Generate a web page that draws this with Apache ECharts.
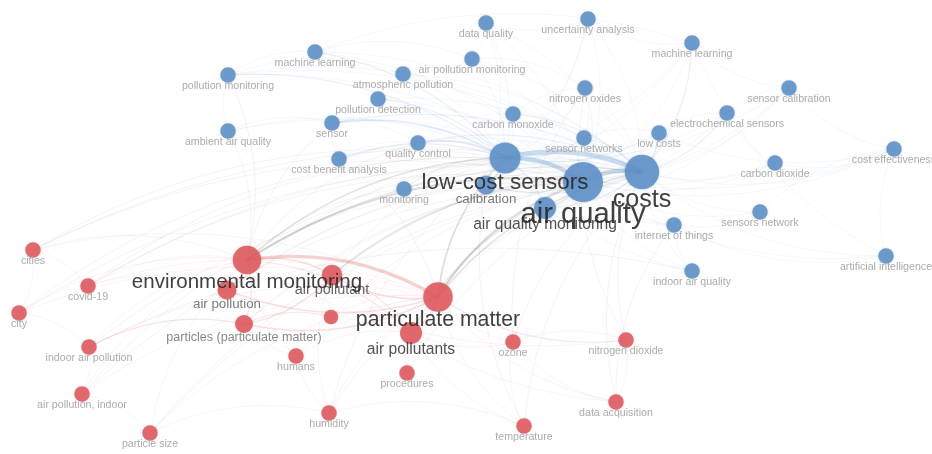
<!DOCTYPE html>
<html><head><meta charset="utf-8">
<script src="https://cdn.jsdelivr.net/npm/echarts@6/dist/echarts.min.js"></script>
<style>html,body{margin:0;padding:0;background:#fff}#c{width:932px;height:454px}</style>
</head><body><div id="c"></div>
<script>
// Node keys ("#..." suffix only disambiguates keys; it is not shown)
const nodeNames = [
  "data quality","uncertainty analysis","machine learning","machine learning#2","pollution monitoring",
  "air pollution monitoring","atmospheric pollution","nitrogen oxides","sensor calibration","pollution detection",
  "carbon monoxide","electrochemical sensors","sensor","ambient air quality","quality control",
  "sensor networks","low costs","cost effectiveness","cost benefit analysis","carbon dioxide",
  "monitoring","internet of things","sensors network","artificial intelligence","indoor air quality",
  "cities","covid-19","city","indoor air pollution","air pollution, indoor",
  "particle size","humans","procedures","humidity","temperature",
  "ozone","nitrogen dioxide","data acquisition","#pm",
  "calibration","air quality monitoring","particles (particulate matter)","air pollution","air pollutant","air pollutants",
  "environmental monitoring","particulate matter","low-cost sensors","costs","air quality"
];
// Map coordinates of each node
const nodeX = [486,588,315,692,228, 472,403,585,789,378, 513,727,332,228,418, 584,659,894,339,775, 404,674,760,886,692,
  33,88,19,89,82, 150,296,407,329,524, 513,626,616,331, 486,545,244,227,332,411, 247,438,505,642,583];
const nodeY = [23,19,52,43,75, 59,74,88,88,99, 114,113,123,131,143, 138,133,149,159,163, 189,225,212,256,271,
  250,286,313,347,394, 433,356,373,413,426, 342,340,402,317, 185,208,324,290,275,333, 260,297,158,172,182];
// 0 = blue cluster, 1 = red cluster
const nodeCluster = [0,0,0,0,0, 0,0,0,0,0, 0,0,0,0,0, 0,0,0,0,0, 0,0,0,0,0,
  1,1,1,1,1, 1,1,1,1,1, 1,1,1,1, 0,0,1,1,1,1, 1,1,0,0,0];
// Occurrence weight
const nodeWeight = [3,3,3,3,3, 3,3,3,3,3, 3,3,3,3,3, 3,3,3,3,3, 3,3,3,3,3,
  3,3,3,3,3, 3,3,3,3,3, 3,3,3,1, 10,16,8,10,13,16, 29,31,34,41,52];

// Links: [source, target, strength]
const links = [
  ["low-cost sensors","costs",9],["low-cost sensors","air quality",8],["air quality","costs",8],
  ["low-cost sensors","calibration",3],["air quality","calibration",2],["costs","calibration",2],
  ["air quality","air quality monitoring",3],["low-cost sensors","air quality monitoring",2],["costs","air quality monitoring",2],
  ["data quality","low-cost sensors",1],["data quality","air quality",1],["data quality","costs",1],
  ["uncertainty analysis","low-cost sensors",1],["uncertainty analysis","costs",1],["uncertainty analysis","air quality",1],
  ["machine learning","low-cost sensors",2],["machine learning","costs",1],["machine learning","air quality",1],
  ["machine learning#2","costs",2],["machine learning#2","air quality",1],["machine learning#2","low-cost sensors",1],
  ["pollution monitoring","low-cost sensors",2],["pollution monitoring","costs",1],["pollution monitoring","air quality",1],
  ["air pollution monitoring","low-cost sensors",1],["air pollution monitoring","air quality",1],["air pollution monitoring","costs",1],
  ["atmospheric pollution","low-cost sensors",1],["atmospheric pollution","air quality",1],["atmospheric pollution","costs",1],
  ["nitrogen oxides","low-cost sensors",1],["nitrogen oxides","costs",1],["nitrogen oxides","air quality",1],
  ["sensor calibration","costs",1],["sensor calibration","air quality",1],["sensor calibration","low-cost sensors",1],
  ["pollution detection","low-cost sensors",2],["pollution detection","costs",1],["pollution detection","air quality",1],
  ["carbon monoxide","low-cost sensors",1],["carbon monoxide","costs",2],["carbon monoxide","air quality",1],
  ["electrochemical sensors","costs",2],["electrochemical sensors","low-cost sensors",1],["electrochemical sensors","air quality",1],
  ["sensor","low-cost sensors",3],["sensor","costs",2],["sensor","air quality",1],
  ["ambient air quality","low-cost sensors",1],["ambient air quality","air quality",1],
  ["quality control","low-cost sensors",3],["quality control","costs",2],["quality control","air quality",1],
  ["sensor networks","costs",2],["sensor networks","low-cost sensors",2],["sensor networks","air quality",1],
  ["low costs","costs",3],["low costs","low-cost sensors",2],["low costs","air quality",1],
  ["cost effectiveness","costs",1],["cost effectiveness","air quality",1],["cost effectiveness","low-cost sensors",1],
  ["cost benefit analysis","low-cost sensors",2],["cost benefit analysis","costs",1],["cost benefit analysis","air quality",1],
  ["carbon dioxide","costs",1],["carbon dioxide","air quality",1],["carbon dioxide","low-cost sensors",1],
  ["monitoring","low-cost sensors",2],["monitoring","air quality",1],["monitoring","costs",1],
  ["internet of things","air quality",1],["internet of things","costs",1],["internet of things","low-cost sensors",1],
  ["sensors network","costs",1],["sensors network","air quality",1],
  ["artificial intelligence","costs",1],["artificial intelligence","air quality",1],
  ["indoor air quality","air quality",1],["indoor air quality","costs",1],["indoor air quality","low-cost sensors",1],
  ["pollution monitoring","machine learning",1],["pollution monitoring","atmospheric pollution",1],
  ["machine learning","air pollution monitoring",1],["air pollution monitoring","nitrogen oxides",1],
  ["atmospheric pollution","pollution detection",1],["pollution detection","sensor",1],["sensor","quality control",1],
  ["quality control","carbon monoxide",1],["carbon monoxide","nitrogen oxides",1],["nitrogen oxides","sensor networks",1],
  ["sensor networks","low costs",1],["low costs","electrochemical sensors",1],["electrochemical sensors","sensor calibration",1],
  ["sensor calibration","machine learning#2",1],["machine learning#2","uncertainty analysis",1],["uncertainty analysis","data quality",1],
  ["data quality","air pollution monitoring",1],["cost effectiveness","low costs",1],["cost effectiveness","carbon dioxide",1],
  ["carbon dioxide","electrochemical sensors",1],["sensors network","internet of things",1],["artificial intelligence","internet of things",1],
  ["artificial intelligence","machine learning#2",1],["indoor air quality","internet of things",1],["ambient air quality","sensor",1],
  ["ambient air quality","pollution monitoring",1],["cost benefit analysis","quality control",1],["cost benefit analysis","sensor",1],
  ["monitoring","calibration",1],["uncertainty analysis","calibration",1],["machine learning#2","calibration",1],
  ["data quality","calibration",1],["sensor calibration","air quality monitoring",1],["machine learning","machine learning#2",1],
  ["pollution monitoring","sensor networks",1],["cost effectiveness","sensor calibration",1],["sensors network","cost effectiveness",1],
  ["artificial intelligence","cost effectiveness",1],
  ["environmental monitoring","particulate matter",6],["environmental monitoring","air pollutant",3],
  ["environmental monitoring","air pollution",2],["environmental monitoring","particles (particulate matter)",2],
  ["environmental monitoring","air pollutants",2],["particulate matter","air pollutant",3],["particulate matter","air pollution",3],
  ["particulate matter","particles (particulate matter)",3],["particulate matter","air pollutants",3],
  ["air pollutant","particles (particulate matter)",2],["air pollutant","air pollutants",2],
  ["air pollution","particles (particulate matter)",1],["particles (particulate matter)","#pm",2],["#pm","particulate matter",1],
  ["cities","environmental monitoring",1],["cities","particulate matter",1],["cities","covid-19",1],["cities","city",1],
  ["covid-19","environmental monitoring",1],["covid-19","particulate matter",1],["covid-19","air pollution",1],
  ["city","environmental monitoring",1],["city","particulate matter",1],["city","indoor air pollution",1],
  ["indoor air pollution","environmental monitoring",1],["indoor air pollution","particulate matter",1],
  ["indoor air pollution","particles (particulate matter)",2],["indoor air pollution","air pollution, indoor",1],
  ["air pollution, indoor","environmental monitoring",1],["air pollution, indoor","particulate matter",1],["air pollution, indoor","particle size",1],
  ["particle size","particulate matter",1],["particle size","humidity",1],["particle size","environmental monitoring",1],
  ["humans","particulate matter",1],["humans","environmental monitoring",1],["humans","particles (particulate matter)",1],["humans","air pollutants",1],
  ["procedures","particulate matter",1],["procedures","air pollutants",1],
  ["humidity","particulate matter",1],["humidity","temperature",1],["humidity","humans",1],["humidity","air pollutant",1],
  ["temperature","particulate matter",1],["temperature","ozone",1],["temperature","air pollutants",1],
  ["ozone","particulate matter",1],["ozone","air pollutants",1],["ozone","nitrogen dioxide",1],
  ["nitrogen dioxide","particulate matter",2],["nitrogen dioxide","environmental monitoring",1],["nitrogen dioxide","data acquisition",1],
  ["data acquisition","particulate matter",1],["data acquisition","ozone",1],["data acquisition","air pollutant",1],
  ["environmental monitoring","air quality",4],["environmental monitoring","low-cost sensors",3],["environmental monitoring","costs",2],
  ["environmental monitoring","monitoring",1],["environmental monitoring","quality control",1],["environmental monitoring","sensor",1],
  ["particulate matter","air quality",4],["particulate matter","low-cost sensors",3],["particulate matter","costs",3],
  ["particulate matter","calibration",1],["particulate matter","air quality monitoring",2],
  ["air pollutant","costs",2],["air pollutant","air quality",2],["air pollutant","low-cost sensors",1],
  ["air pollutants","air quality",2],["air pollutants","costs",1],["air pollution","low-cost sensors",1],["air pollution","air quality",1],
  ["particles (particulate matter)","air quality",1],["particles (particulate matter)","costs",1],
  ["cities","low-cost sensors",1],["cities","air quality",1],["city","low-cost sensors",1],["covid-19","air quality",1],["covid-19","costs",1],
  ["indoor air pollution","air quality",1],["indoor air pollution","indoor air quality",1],["humans","air quality",1],
  ["humidity","costs",1],["humidity","low-cost sensors",1],["temperature","costs",1],["temperature","calibration",1],
  ["ozone","costs",1],["ozone","nitrogen oxides",1],["nitrogen dioxide","nitrogen oxides",1],["nitrogen dioxide","costs",1],
  ["data acquisition","internet of things",1],["data acquisition","costs",1],["particle size","air quality",1],["procedures","costs",1],
  ["air pollution, indoor","air quality",1],["ambient air quality","environmental monitoring",1],["pollution monitoring","environmental monitoring",1],
  ["cost benefit analysis","particulate matter",1],["city","costs",1],["cities","costs",1],["air pollution, indoor","low-cost sensors",1],
  ["particle size","costs",1],["covid-19","low-cost sensors",1],["air pollution","costs",1]
];

const idx = {}; nodeNames.forEach((n, i) => idx[n] = i);
const BLUE = '#5b90c8', RED = '#e0585d';
const data = nodeNames.map((n, i) => {
  const w = nodeWeight[i];
  const g = Math.max(38, Math.round(185 - 8 * w));
  const txt = n.split('#')[0];
  return {
    name: n, value: [nodeX[i], nodeY[i]],
    symbolSize: 14 + 0.5 * w,
    itemStyle: { color: nodeCluster[i] === 0 ? BLUE : RED, opacity: 0.88,
      shadowBlur: 3, shadowColor: 'rgba(0,0,0,0.15)' },
    label: { show: txt !== '', position: 'bottom', distance: -2, fontSize: 9.5 + 0.38 * w,
      color: 'rgb(' + g + ',' + g + ',' + g + ')', formatter: txt || ' ' }
  };
});
const linkData = links.map(([a, b, w]) => {
  const ca = nodeCluster[idx[a]], cb = nodeCluster[idx[b]];
  const col = ca !== cb ? '120,120,120' : (ca === 0 ? '115,160,212' : '228,105,110');
  return { source: idx[a], target: idx[b],
    lineStyle: { width: 0.6 + 0.55 * (w - 1), color: 'rgba(' + col + ',' + Math.min(0.72, 0.2 + 0.07 * w) + ')' } };
});

const chart = echarts.init(document.getElementById('c'));
chart.setOption({
  animation: false,
  backgroundColor: '#fff',
  textStyle: { fontFamily: 'Liberation Sans, Arial, sans-serif' },
  grid: { left: 0, right: 0, top: 0, bottom: 0 },
  xAxis: { type: 'value', min: 0, max: 932, show: false },
  yAxis: { type: 'value', min: 0, max: 454, inverse: true, show: false },
  series: [{
    type: 'graph', coordinateSystem: 'cartesian2d', silent: true,
    data: data, links: linkData,
    lineStyle: { curveness: 0.18 },
    emphasis: { disabled: true }
  }]
});
</script></body></html>
